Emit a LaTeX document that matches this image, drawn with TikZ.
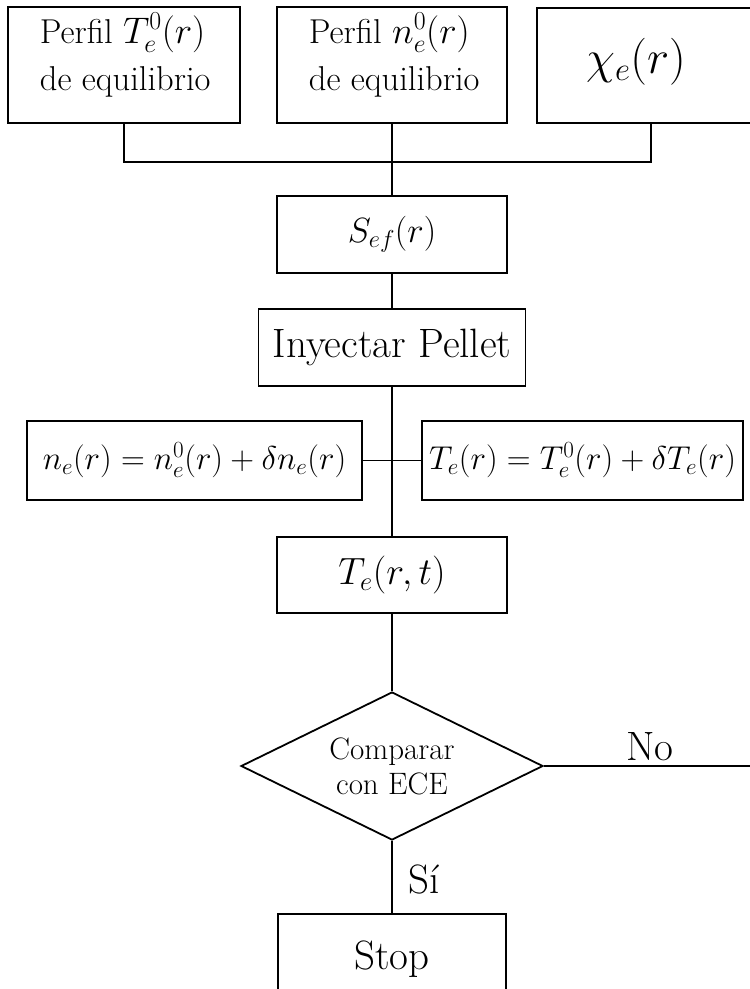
\RequirePackage{fix-cm}
\documentclass[tikz,border=0pt]{standalone}
\usetikzlibrary{shapes.geometric}
\newcommand{\topmath}[1]{{\fontsize{37}{40}\selectfont$#1$}}
\begin{document}
\begin{tikzpicture}[x=1pt,y=-1pt,line width=1.8pt,
  boxnode/.style={draw, rectangle, inner sep=0pt},
  toptext/.style={anchor=base west, inner sep=0pt, font=\fontsize{34.5}{40}\selectfont},
  eqtext/.style={font=\fontsize{33}{40}\selectfont},
  lbl/.style={inner sep=0pt, font=\fontsize{41}{48}\selectfont}]
\useasboundingbox (0,0) rectangle (750,989);
\fill[white] (0,0) rectangle (750,989);
% top row
\node[boxnode, minimum width=232pt, minimum height=116pt] (b1) at (124,65) {};
\node[toptext] (t1a) at (39,43) {Perfil \topmath{T_e^0(r)}};
\node[toptext] (t1b) at (39,90) {de equilibrio};
\node[boxnode, minimum width=230pt, minimum height=116pt] (b2) at (392,65) {};
\node[toptext] (t2a) at (308,43) {Perfil \topmath{n_e^0(r)}};
\node[toptext] (t2b) at (308,90) {de equilibrio};
\node[boxnode, minimum width=228pt, minimum height=115pt] (b3) at (651,65.5) {};
\node[inner sep=0pt, font=\fontsize{47}{50}\selectfont] (chi) at (636,62) {$\chi_e(r)$};
\coordinate (j) at (392,162);
\draw (b1.south) |- (j) -| (b3.south);
% chain
\node[boxnode, minimum width=230pt, minimum height=77pt, font=\fontsize{35}{42}\selectfont] (sef) at (392,234.5) {$S_{ef}(r)$};
\node[boxnode, minimum width=267pt, minimum height=77pt, lbl] (pel) at (392,347.5) {Inyectar Pellet};
\node[boxnode, minimum width=335pt, minimum height=79pt, eqtext] (ne) at (194.5,460.5) {$n_e(r)=n_e^0(r)+\delta n_e(r)$};
\node[boxnode, minimum width=321pt, minimum height=79pt, eqtext] (te) at (582.5,460.5) {$T_e(r)=T_e^0(r)+\delta T_e(r)$};
\node[boxnode, minimum width=230pt, minimum height=76pt, font=\fontsize{38}{44}\selectfont] (tert) at (392,575) {$T_e(r,t)$};
\draw (b2.south) -- (sef.north);
\draw (sef.south) -- (pel.north);
\draw (pel.south) -- (tert.north);
\draw (ne.east) -- (te.west);
% decision
\node[diamond, draw, aspect=2.04, minimum width=302pt, minimum height=148pt, inner sep=0pt,
      align=center, font=\fontsize{31}{35}\selectfont] (cmp) at (392,766) {Comparar\\con ECE};
\draw (tert.south) -- (cmp.north);
\coordinate (noend) at (770,766);
\draw (cmp.east) -- (noend);
\node[lbl, anchor=base] (nolab) at (650,760) {No};
\node[boxnode, minimum width=228pt, minimum height=90pt, lbl] (stop) at (392,959) {Stop};
\draw (cmp.south) -- (stop.north);
\node[lbl, anchor=base west] (si) at (408,893) {Sí};
\end{tikzpicture}
\end{document}
